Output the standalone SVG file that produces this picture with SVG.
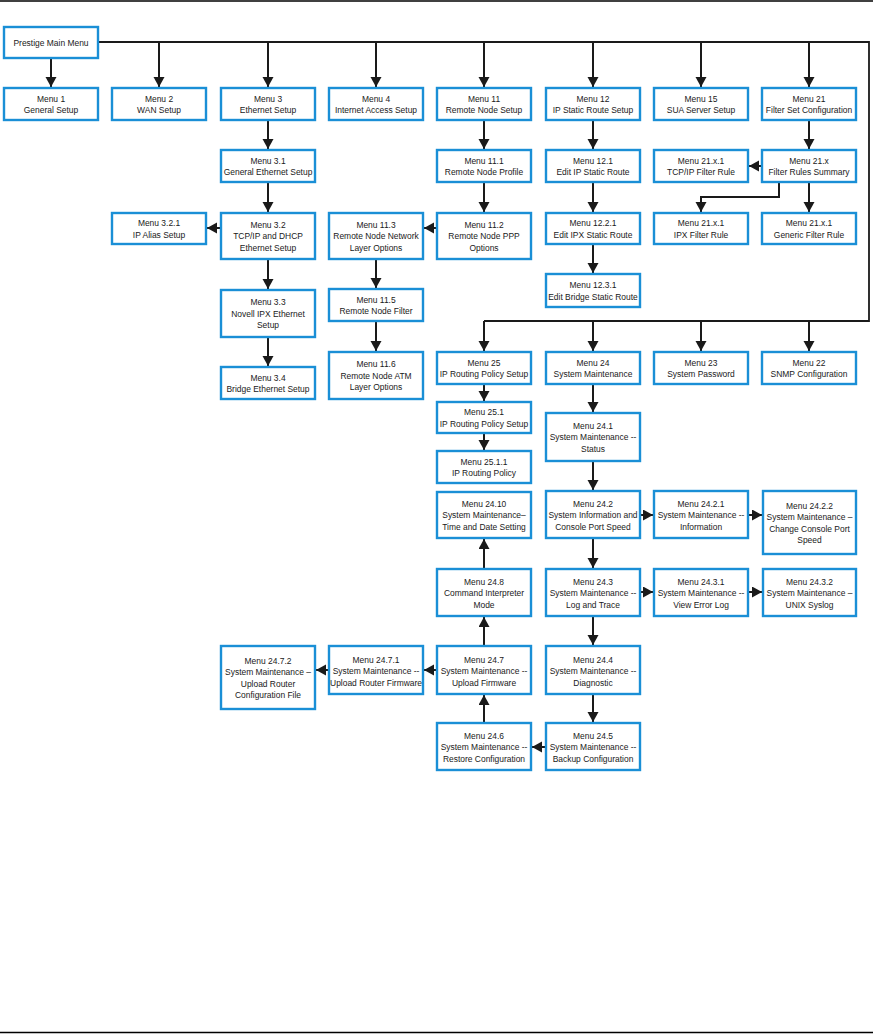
<svg xmlns="http://www.w3.org/2000/svg" width="873" height="1034" viewBox="0 0 873 1034">
<style>
.b rect{fill:#fff;stroke:#1a8fd6;stroke-width:2.4}
.b text{font-family:"Liberation Sans",Arial,sans-serif;font-size:9.6px;fill:#1a1a1a;text-anchor:middle}
.c path{fill:none;stroke:#1a1a1a;stroke-width:2;marker-end:url(#ah)}
.bus{fill:none;stroke:#1a1a1a;stroke-width:1.8}
</style>
<defs>
<marker id="ah" markerUnits="userSpaceOnUse" markerWidth="12" markerHeight="12" refX="10" refY="5.5" orient="auto"><path d="M0,0 L10,5.5 L0,11 z" fill="#1a1a1a"/></marker>
</defs>
<rect width="873" height="1034" fill="#fff"/>
<line x1="0" y1="1" x2="873" y2="1" stroke="#000" stroke-width="1.6"/>
<line x1="0" y1="1032.5" x2="873" y2="1032.5" stroke="#000" stroke-width="1.4"/>

<g id="connectors">
<polyline class="bus" points="98,42 869,42 869,321 484,321"/>
<g class="c">
<path d="M51,58 V87"/>
<path d="M159,42 V87"/>
<path d="M268,42 V87"/>
<path d="M376,42 V87"/>
<path d="M484,42 V87"/>
<path d="M593,42 V87"/>
<path d="M701,42 V87"/>
<path d="M809,42 V87"/>
<path d="M268,120 V149"/>
<path d="M268,182 V212"/>
<path d="M268,259 V289"/>
<path d="M268,337 V366"/>
<path d="M221,228 H207"/>
<path d="M484,120 V149"/>
<path d="M484,182 V212"/>
<path d="M437,228 H424"/>
<path d="M376,259 V288"/>
<path d="M376,321 V351"/>
<path d="M593,120 V149"/>
<path d="M593,182 V212"/>
<path d="M593,244 V273"/>
<path d="M809,120 V149"/>
<path d="M762,166 H749"/>
<path d="M809,182 V212"/>
<path d="M779,182 V197 H701 V212"/>
<path d="M484,321 V351"/>
<path d="M593,321 V351"/>
<path d="M701,321 V351"/>
<path d="M809,321 V351"/>
<path d="M484,384 V401"/>
<path d="M484,433 V450"/>
<path d="M593,384 V412"/>
<path d="M593,461 V490"/>
<path d="M593,538 V568"/>
<path d="M593,616 V645"/>
<path d="M593,694 V722"/>
<path d="M640,515 H653"/>
<path d="M748,515 H762"/>
<path d="M640,592 H653"/>
<path d="M748,592 H762"/>
<path d="M546,747 H532"/>
<path d="M484,723 V695"/>
<path d="M484,646 V617"/>
<path d="M484,569 V539"/>
<path d="M437,670 H424"/>
<path d="M329,670 H316"/>
</g>
</g>

<g id="n-main" class="b"><rect x="4" y="27" width="94" height="31"/><text transform="translate(51,45.5) scale(.88 1)">Prestige Main Menu</text></g>

<g id="n-1" class="b"><rect x="4" y="88" width="94" height="32"/><text transform="translate(51,101.5) scale(.88 1)"><tspan x="0">Menu 1</tspan><tspan x="0" dy="11.6">General Setup</tspan></text></g>
<g id="n-2" class="b"><rect x="112" y="88" width="94" height="32"/><text transform="translate(159,101.5) scale(.88 1)"><tspan x="0">Menu 2</tspan><tspan x="0" dy="11.6">WAN Setup</tspan></text></g>
<g id="n-3" class="b"><rect x="221" y="88" width="94" height="32"/><text transform="translate(268,101.5) scale(.88 1)"><tspan x="0">Menu 3</tspan><tspan x="0" dy="11.6">Ethernet Setup</tspan></text></g>
<g id="n-4" class="b"><rect x="329" y="88" width="94" height="32"/><text transform="translate(376,101.5) scale(.88 1)"><tspan x="0">Menu 4</tspan><tspan x="0" dy="11.6">Internet Access Setup</tspan></text></g>
<g id="n-11" class="b"><rect x="437" y="88" width="94" height="32"/><text transform="translate(484,101.5) scale(.88 1)"><tspan x="0">Menu 11</tspan><tspan x="0" dy="11.6">Remote Node Setup</tspan></text></g>
<g id="n-12" class="b"><rect x="546" y="88" width="94" height="32"/><text transform="translate(593,101.5) scale(.88 1)"><tspan x="0">Menu 12</tspan><tspan x="0" dy="11.6">IP Static Route Setup</tspan></text></g>
<g id="n-15" class="b"><rect x="654" y="88" width="94" height="32"/><text transform="translate(701,101.5) scale(.88 1)"><tspan x="0">Menu 15</tspan><tspan x="0" dy="11.6">SUA Server Setup</tspan></text></g>
<g id="n-21" class="b"><rect x="762" y="88" width="94" height="32"/><text transform="translate(809,101.5) scale(.88 1)"><tspan x="0">Menu 21</tspan><tspan x="0" dy="11.6">Filter Set Configuration</tspan></text></g>

<g id="n-3-1" class="b"><rect x="221" y="150" width="94" height="32"/><text transform="translate(268,163.5) scale(.88 1)"><tspan x="0">Menu 3.1</tspan><tspan x="0" dy="11.6">General Ethernet Setup</tspan></text></g>
<g id="n-11-1" class="b"><rect x="437" y="150" width="94" height="32"/><text transform="translate(484,163.5) scale(.88 1)"><tspan x="0">Menu 11.1</tspan><tspan x="0" dy="11.6">Remote Node Profile</tspan></text></g>
<g id="n-12-1" class="b"><rect x="546" y="150" width="94" height="32"/><text transform="translate(593,163.5) scale(.88 1)"><tspan x="0">Menu 12.1</tspan><tspan x="0" dy="11.6">Edit IP Static Route</tspan></text></g>
<g id="n-21-x-1-tcp" class="b"><rect x="654" y="150" width="94" height="32"/><text transform="translate(701,163.5) scale(.88 1)"><tspan x="0">Menu 21.x.1</tspan><tspan x="0" dy="11.6">TCP/IP Filter Rule</tspan></text></g>
<g id="n-21-x" class="b"><rect x="762" y="150" width="94" height="32"/><text transform="translate(809,163.5) scale(.88 1)"><tspan x="0">Menu 21.x</tspan><tspan x="0" dy="11.6">Filter Rules Summary</tspan></text></g>

<g id="n-3-2-1" class="b"><rect x="112" y="213" width="94" height="31"/><text transform="translate(159,226) scale(.88 1)"><tspan x="0">Menu 3.2.1</tspan><tspan x="0" dy="11.6">IP Alias Setup</tspan></text></g>
<g id="n-3-2" class="b"><rect x="221" y="213" width="94" height="46"/><text transform="translate(268,227.5) scale(.88 1)"><tspan x="0">Menu 3.2</tspan><tspan x="0" dy="11.6">TCP/IP and DHCP</tspan><tspan x="0" dy="11.6">Ethernet Setup</tspan></text></g>
<g id="n-11-3" class="b"><rect x="329" y="213" width="94" height="46"/><text transform="translate(376,227.5) scale(.88 1)"><tspan x="0">Menu 11.3</tspan><tspan x="0" dy="11.6">Remote Node Network</tspan><tspan x="0" dy="11.6">Layer Options</tspan></text></g>
<g id="n-11-2" class="b"><rect x="437" y="213" width="94" height="46"/><text transform="translate(484,227.5) scale(.88 1)"><tspan x="0">Menu 11.2</tspan><tspan x="0" dy="11.6">Remote Node PPP</tspan><tspan x="0" dy="11.6">Options</tspan></text></g>
<g id="n-12-2-1" class="b"><rect x="546" y="213" width="94" height="31"/><text transform="translate(593,226) scale(.88 1)"><tspan x="0">Menu 12.2.1</tspan><tspan x="0" dy="11.6">Edit IPX Static Route</tspan></text></g>
<g id="n-21-x-1-ipx" class="b"><rect x="654" y="213" width="94" height="31"/><text transform="translate(701,226) scale(.88 1)"><tspan x="0">Menu 21.x.1</tspan><tspan x="0" dy="11.6">IPX Filter Rule</tspan></text></g>
<g id="n-21-x-1-gen" class="b"><rect x="762" y="213" width="94" height="31"/><text transform="translate(809,226) scale(.88 1)"><tspan x="0">Menu 21.x.1</tspan><tspan x="0" dy="11.6">Generic Filter Rule</tspan></text></g>

<g id="n-12-3-1" class="b"><rect x="546" y="274" width="94" height="33"/><text transform="translate(593,288) scale(.88 1)"><tspan x="0">Menu 12.3.1</tspan><tspan x="0" dy="11.6">Edit Bridge Static Route</tspan></text></g>
<g id="n-3-3" class="b"><rect x="221" y="290" width="94" height="47"/><text transform="translate(268,305) scale(.88 1)"><tspan x="0">Menu 3.3</tspan><tspan x="0" dy="11.6">Novell IPX Ethernet</tspan><tspan x="0" dy="11.6">Setup</tspan></text></g>
<g id="n-3-4" class="b"><rect x="221" y="367" width="94" height="32"/><text transform="translate(268,380.5) scale(.88 1)"><tspan x="0">Menu 3.4</tspan><tspan x="0" dy="11.6">Bridge Ethernet Setup</tspan></text></g>
<g id="n-11-5" class="b"><rect x="329" y="289" width="94" height="32"/><text transform="translate(376,302.5) scale(.88 1)"><tspan x="0">Menu 11.5</tspan><tspan x="0" dy="11.6">Remote Node Filter</tspan></text></g>
<g id="n-11-6" class="b"><rect x="329" y="352" width="94" height="47"/><text transform="translate(376,367) scale(.88 1)"><tspan x="0">Menu 11.6</tspan><tspan x="0" dy="11.6">Remote Node ATM</tspan><tspan x="0" dy="11.6">Layer Options</tspan></text></g>

<g id="n-25" class="b"><rect x="437" y="352" width="94" height="32"/><text transform="translate(484,365.5) scale(.88 1)"><tspan x="0">Menu 25</tspan><tspan x="0" dy="11.6">IP Routing Policy Setup</tspan></text></g>
<g id="n-24" class="b"><rect x="546" y="352" width="94" height="32"/><text transform="translate(593,365.5) scale(.88 1)"><tspan x="0">Menu 24</tspan><tspan x="0" dy="11.6">System Maintenance</tspan></text></g>
<g id="n-23" class="b"><rect x="654" y="352" width="94" height="32"/><text transform="translate(701,365.5) scale(.88 1)"><tspan x="0">Menu 23</tspan><tspan x="0" dy="11.6">System Password</tspan></text></g>
<g id="n-22" class="b"><rect x="762" y="352" width="94" height="32"/><text transform="translate(809,365.5) scale(.88 1)"><tspan x="0">Menu 22</tspan><tspan x="0" dy="11.6">SNMP Configuration</tspan></text></g>

<g id="n-25-1" class="b"><rect x="437" y="402" width="94" height="31"/><text transform="translate(484,415) scale(.88 1)"><tspan x="0">Menu 25.1</tspan><tspan x="0" dy="11.6">IP Routing Policy Setup</tspan></text></g>
<g id="n-25-1-1" class="b"><rect x="437" y="451" width="94" height="32"/><text transform="translate(484,464.5) scale(.88 1)"><tspan x="0">Menu 25.1.1</tspan><tspan x="0" dy="11.6">IP Routing Policy</tspan></text></g>
<g id="n-24-10" class="b"><rect x="437" y="492" width="94" height="46"/><text transform="translate(484,506.5) scale(.88 1)"><tspan x="0">Menu 24.10</tspan><tspan x="0" dy="11.6">System Maintenance–</tspan><tspan x="0" dy="11.6">Time and Date Setting</tspan></text></g>
<g id="n-24-1" class="b"><rect x="546" y="413" width="94" height="48"/><text transform="translate(593,428.5) scale(.88 1)"><tspan x="0">Menu 24.1</tspan><tspan x="0" dy="11.6">System Maintenance --</tspan><tspan x="0" dy="11.6">Status</tspan></text></g>
<g id="n-24-2" class="b"><rect x="546" y="491" width="94" height="47"/><text transform="translate(593,506.5) scale(.88 1)"><tspan x="0">Menu 24.2</tspan><tspan x="0" dy="11.6">System Information and</tspan><tspan x="0" dy="11.6">Console Port Speed</tspan></text></g>
<g id="n-24-2-1" class="b"><rect x="654" y="491" width="94" height="47"/><text transform="translate(701,506.5) scale(.88 1)"><tspan x="0">Menu 24.2.1</tspan><tspan x="0" dy="11.6">System Maintenance --</tspan><tspan x="0" dy="11.6">Information</tspan></text></g>
<g id="n-24-2-2" class="b"><rect x="763" y="491" width="93" height="63"/><text transform="translate(809.5,508.5) scale(.88 1)"><tspan x="0">Menu 24.2.2</tspan><tspan x="0" dy="11.6">System Maintenance –</tspan><tspan x="0" dy="11.6">Change Console Port</tspan><tspan x="0" dy="11.6">Speed</tspan></text></g>

<g id="n-24-8" class="b"><rect x="437" y="569" width="94" height="47"/><text transform="translate(484,584.5) scale(.88 1)"><tspan x="0">Menu 24.8</tspan><tspan x="0" dy="11.6">Command Interpreter</tspan><tspan x="0" dy="11.6">Mode</tspan></text></g>
<g id="n-24-3" class="b"><rect x="546" y="569" width="94" height="47"/><text transform="translate(593,584.5) scale(.88 1)"><tspan x="0">Menu 24.3</tspan><tspan x="0" dy="11.6">System Maintenance --</tspan><tspan x="0" dy="11.6">Log and Trace</tspan></text></g>
<g id="n-24-3-1" class="b"><rect x="654" y="569" width="94" height="47"/><text transform="translate(701,584.5) scale(.88 1)"><tspan x="0">Menu 24.3.1</tspan><tspan x="0" dy="11.6">System Maintenance --</tspan><tspan x="0" dy="11.6">View Error Log</tspan></text></g>
<g id="n-24-3-2" class="b"><rect x="763" y="569" width="93" height="47"/><text transform="translate(809.5,584.5) scale(.88 1)"><tspan x="0">Menu 24.3.2</tspan><tspan x="0" dy="11.6">System Maintenance –</tspan><tspan x="0" dy="11.6">UNIX Syslog</tspan></text></g>

<g id="n-24-7-2" class="b"><rect x="221" y="646" width="94" height="63"/><text transform="translate(268,663.5) scale(.88 1)"><tspan x="0">Menu 24.7.2</tspan><tspan x="0" dy="11.6">System Maintenance –</tspan><tspan x="0" dy="11.6">Upload Router</tspan><tspan x="0" dy="11.6">Configuration File</tspan></text></g>
<g id="n-24-7-1" class="b"><rect x="329" y="646" width="94" height="48"/><text transform="translate(376,662.5) scale(.88 1)"><tspan x="0">Menu 24.7.1</tspan><tspan x="0" dy="11.6">System Maintenance --</tspan><tspan x="0" dy="11.6">Upload Router Firmware</tspan></text></g>
<g id="n-24-7" class="b"><rect x="437" y="646" width="94" height="48"/><text transform="translate(484,662.5) scale(.88 1)"><tspan x="0">Menu 24.7</tspan><tspan x="0" dy="11.6">System Maintenance --</tspan><tspan x="0" dy="11.6">Upload Firmware</tspan></text></g>
<g id="n-24-4" class="b"><rect x="546" y="646" width="94" height="48"/><text transform="translate(593,662.5) scale(.88 1)"><tspan x="0">Menu 24.4</tspan><tspan x="0" dy="11.6">System Maintenance --</tspan><tspan x="0" dy="11.6">Diagnostic</tspan></text></g>
<g id="n-24-6" class="b"><rect x="437" y="723" width="94" height="47"/><text transform="translate(484,738.5) scale(.88 1)"><tspan x="0">Menu 24.6</tspan><tspan x="0" dy="11.6">System Maintenance --</tspan><tspan x="0" dy="11.6">Restore Configuration</tspan></text></g>
<g id="n-24-5" class="b"><rect x="546" y="723" width="94" height="47"/><text transform="translate(593,738.5) scale(.88 1)"><tspan x="0">Menu 24.5</tspan><tspan x="0" dy="11.6">System Maintenance --</tspan><tspan x="0" dy="11.6">Backup Configuration</tspan></text></g>
</svg>
